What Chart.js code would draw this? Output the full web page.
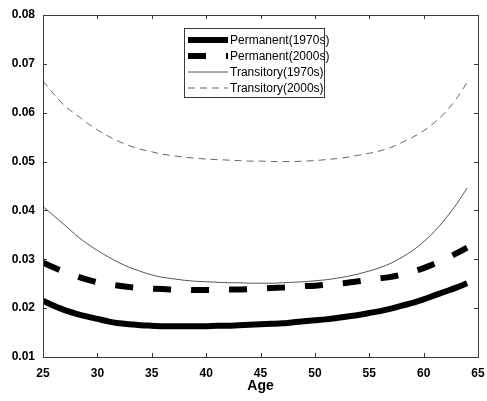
<!DOCTYPE html>
<html>
<head>
<meta charset="utf-8">
<script src="https://cdn.jsdelivr.net/npm/chart.js@4.4.0/dist/chart.umd.min.js"></script>
<style>
  html, body { margin: 0; padding: 0; background: #fff; }
  canvas { display: block; }
</style>
</head>
<body>
<canvas id="chart" width="487" height="401"></canvas>
<script>
const ages = [25, 26, 27, 28, 29, 30, 31, 32, 33, 34, 35, 36, 37, 38, 39, 40, 41, 42, 43, 44,
  45, 46, 47, 48, 49, 50, 51, 52, 53, 54, 55, 56, 57, 58, 59, 60, 61, 62, 63, 64];

const permanent1970s = [0.0215, 0.0205, 0.0196, 0.0189, 0.0183, 0.0178, 0.0173, 0.0169, 0.0167, 0.0165,
  0.0164, 0.0163, 0.0163, 0.0163, 0.0163, 0.0163, 0.0164, 0.0164, 0.0165, 0.0166,
  0.0167, 0.0168, 0.0169, 0.0171, 0.0173, 0.0175, 0.0177, 0.0180, 0.0183, 0.0186,
  0.0190, 0.0194, 0.0199, 0.0205, 0.0211, 0.0218, 0.0226, 0.0234, 0.0242, 0.0251];

const permanent2000s = [0.0293, 0.0283, 0.0274, 0.0266, 0.0259, 0.0253, 0.0249, 0.0246, 0.0243, 0.0241,
  0.0240, 0.0239, 0.0238, 0.0238, 0.0237, 0.0237, 0.0237, 0.0238, 0.0238, 0.0239,
  0.0240, 0.0241, 0.0242, 0.0243, 0.0245, 0.0246, 0.0248, 0.0250, 0.0252, 0.0255,
  0.0258, 0.0261, 0.0264, 0.0269, 0.0275, 0.0282, 0.0291, 0.0301, 0.0312, 0.0324];

const transitory1970s = [0.0408, 0.0389, 0.0370, 0.0350, 0.0333, 0.0318, 0.0305, 0.0293, 0.0283, 0.0275,
  0.0268, 0.0263, 0.0260, 0.0257, 0.0255, 0.0254, 0.0253, 0.0252, 0.0252, 0.0251,
  0.0251, 0.0251, 0.0252, 0.0253, 0.0254, 0.0256, 0.0258, 0.0261, 0.0265, 0.0270,
  0.0276, 0.0283, 0.0292, 0.0304, 0.0318, 0.0336, 0.0357, 0.0383, 0.0412, 0.0446];

const transitory2000s = [0.0665, 0.0638, 0.0614, 0.0597, 0.0580, 0.0565, 0.0552, 0.0541, 0.0532, 0.0525,
  0.0520, 0.0515, 0.0512, 0.0509, 0.0507, 0.0505, 0.0504, 0.0503, 0.0502, 0.0501,
  0.0501, 0.0500, 0.0500, 0.0500, 0.0501, 0.0502, 0.0504, 0.0506, 0.0509, 0.0513,
  0.0517, 0.0522, 0.0529, 0.0539, 0.0550, 0.0563, 0.0580, 0.0601, 0.0628, 0.0662];

const seriesLabels = ['Permanent(1970s)', 'Permanent(2000s)', 'Transitory(1970s)', 'Transitory(2000s)'];
const xTicks = [25, 30, 35, 40, 45, 50, 55, 60, 65];
const yTicks = [0.01, 0.02, 0.03, 0.04, 0.05, 0.06, 0.07, 0.08];

const toPoints = vals => vals.map((v, i) => ({ x: ages[i], y: v }));

const fontFamily = '"Liberation Sans", Arial, sans-serif';
const axisColor = '#3a3a3a';

// box around the plot + inward ticks on all four sides, matlab style
const boxPlugin = {
  id: 'box',
  afterDraw(chart) {
    const { ctx, chartArea: a, scales } = chart;
    ctx.save();
    ctx.strokeStyle = axisColor;
    ctx.lineWidth = 1;
    ctx.strokeRect(Math.round(a.left) + 0.5, Math.round(a.top) + 0.5,
      Math.round(a.right - a.left), Math.round(a.bottom - a.top));
    const len = 4;
    ctx.beginPath();
    xTicks.forEach(t => {
      const px = Math.round(scales.x.getPixelForValue(t)) + 0.5;
      ctx.moveTo(px, a.bottom); ctx.lineTo(px, a.bottom - len);
      ctx.moveTo(px, a.top); ctx.lineTo(px, a.top + len);
    });
    yTicks.forEach(t => {
      const py = Math.round(scales.y.getPixelForValue(t)) + 0.5;
      ctx.moveTo(a.left, py); ctx.lineTo(a.left + len, py);
      ctx.moveTo(a.right, py); ctx.lineTo(a.right - len, py);
    });
    ctx.stroke();
    ctx.restore();
  }
};

// legend drawn inside the plot area
const insideLegend = {
  id: 'insideLegend',
  afterDraw(chart) {
    const { ctx, chartArea: a } = chart;
    const left = Math.round(a.left) + 141;
    const top = Math.round(a.top) + 13;
    const w = 140, h = 69, rowH = 16;
    ctx.save();
    ctx.fillStyle = '#fff';
    ctx.fillRect(left, top, w, h);
    ctx.strokeStyle = axisColor;
    ctx.lineWidth = 1;
    ctx.strokeRect(left + 0.5, top + 0.5, w, h);
    ctx.font = '12px ' + fontFamily;
    ctx.textBaseline = 'middle';
    chart.data.datasets.forEach((ds, i) => {
      const cy = top + 12 + i * rowH;
      ctx.beginPath();
      ctx.strokeStyle = ds.borderColor;
      ctx.lineWidth = ds.borderWidth;
      ctx.setLineDash(ds.borderDash || []);
      ctx.moveTo(left + 4, cy);
      ctx.lineTo(left + 44, cy);
      ctx.stroke();
      ctx.setLineDash([]);
      ctx.fillStyle = '#000';
      ctx.fillText(ds.label, left + 46, cy + 1);
    });
    ctx.restore();
  }
};

new Chart(document.getElementById('chart').getContext('2d'), {
  type: 'line',
  data: {
    datasets: [
      {
        label: seriesLabels[0],
        data: toPoints(permanent1970s),
        borderColor: '#000',
        borderWidth: 6
      },
      {
        label: seriesLabels[1],
        data: toPoints(permanent2000s),
        borderColor: '#000',
        borderWidth: 6,
        borderDash: [18, 20]
      },
      {
        label: seriesLabels[2],
        data: toPoints(transitory1970s),
        borderColor: '#555',
        borderWidth: 1
      },
      {
        label: seriesLabels[3],
        data: toPoints(transitory2000s),
        borderColor: '#666',
        borderWidth: 1,
        borderDash: [7, 5]
      }
    ]
  },
  options: {
    responsive: false,
    animation: false,
    layout: { padding: { top: 15, right: 9, left: 0, bottom: 0 } },
    elements: {
      point: { radius: 0 },
      line: { cubicInterpolationMode: 'monotone' }
    },
    plugins: {
      legend: { display: false },
      tooltip: { enabled: false }
    },
    scales: {
      x: {
        type: 'linear',
        min: 25,
        max: 65,
        grid: { display: false, drawTicks: false },
        border: { display: false },
        afterBuildTicks: scale => { scale.ticks = xTicks.map(v => ({ value: v })); },
        afterFit: scale => {
          scale.height = 44;
          scale.paddingLeft = 0;
          scale.paddingRight = 0;
        },
        ticks: {
          padding: 9,
          color: '#000',
          maxRotation: 0,
          font: { family: fontFamily, size: 12, weight: 'bold' }
        },
        title: {
          display: true,
          text: 'Age',
          color: '#000',
          padding: { top: 0, bottom: 6 },
          font: { family: fontFamily, size: 14, weight: 'bold' }
        }
      },
      y: {
        min: 0.01,
        max: 0.08,
        grid: { display: false, drawTicks: false },
        border: { display: false },
        afterBuildTicks: scale => { scale.ticks = yTicks.map(v => ({ value: v })); },
        afterFit: scale => {
          scale.width = 43;
          scale.paddingTop = 0;
          scale.paddingBottom = 0;
        },
        ticks: {
          padding: 8,
          color: '#000',
          font: { family: fontFamily, size: 12, weight: 'bold' },
          callback: v => v.toFixed(2)
        }
      }
    }
  },
  plugins: [boxPlugin, insideLegend]
});
</script>
</body>
</html>
